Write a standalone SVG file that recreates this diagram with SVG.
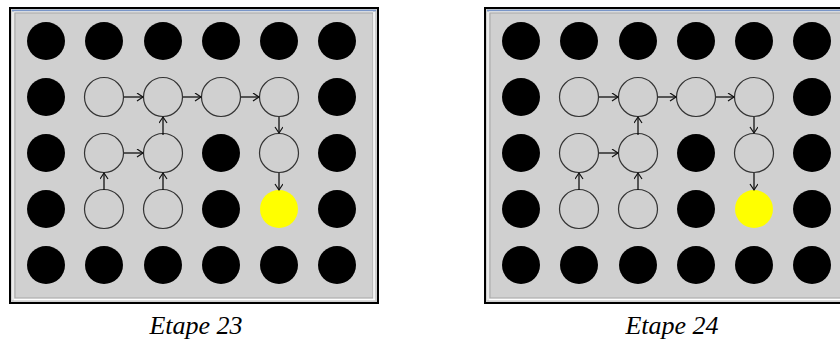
<svg xmlns="http://www.w3.org/2000/svg" width="840" height="344" viewBox="0 0 840 344">
<style>
.frame{fill:#d0d0d0;stroke:#000;stroke-width:2}
.blk{fill:#000}
.open{fill:none;stroke:#333;stroke-width:1.2}
.yel{fill:#ffff00}
.conn{stroke:#111;stroke-width:1.3;fill:none;marker-end:url(#ah)}
.lbl{font-family:"Liberation Serif",serif;font-style:italic;font-size:26px;fill:#000;text-anchor:middle}
</style>
<defs>
<marker id="ah" markerWidth="10" markerHeight="10" refX="7" refY="4" orient="auto" markerUnits="userSpaceOnUse">
<path d="M1,0 L7,4 L1,8" fill="none" stroke="#111" stroke-width="1.2"/>
</marker>
<g id="board">
<rect class="frame" x="10" y="8" width="368" height="295"/>
<line x1="12" y1="10.5" x2="376" y2="10.5" stroke="#7a96c8" stroke-width="1.5"/>
<line x1="13" y1="12" x2="13" y2="300" stroke="#f4f4f4" stroke-width="1.5"/>
<line x1="14" y1="12" x2="373" y2="12" stroke="#f4f4f4" stroke-width="1"/>
<rect x="15" y="13" width="358" height="285" fill="none" stroke="#a8a8a8" stroke-width="1"/>
<line x1="374" y1="12" x2="374" y2="300" stroke="#ffffff" stroke-width="1.5"/>
<line x1="14" y1="299.5" x2="375" y2="299.5" stroke="#ffffff" stroke-width="1.5"/>
<g id="n11"><circle class="blk" cx="46" cy="41" r="19"/></g>
<g id="n12"><circle class="blk" cx="104" cy="41" r="19"/></g>
<g id="n13"><circle class="blk" cx="163" cy="41" r="19"/></g>
<g id="n14"><circle class="blk" cx="221" cy="41" r="19"/></g>
<g id="n15"><circle class="blk" cx="279" cy="41" r="19"/></g>
<g id="n16"><circle class="blk" cx="337" cy="41" r="19"/></g>
<g id="n21"><circle class="blk" cx="46" cy="97" r="19"/></g>
<g id="n22"><circle class="open" cx="104" cy="97" r="19.5"/></g>
<g id="n23"><circle class="open" cx="163" cy="97" r="19.5"/></g>
<g id="n24"><circle class="open" cx="221" cy="97" r="19.5"/></g>
<g id="n25"><circle class="open" cx="279" cy="97" r="19.5"/></g>
<g id="n26"><circle class="blk" cx="337" cy="97" r="19"/></g>
<g id="n31"><circle class="blk" cx="46" cy="153" r="19"/></g>
<g id="n32"><circle class="open" cx="104" cy="153" r="19.5"/></g>
<g id="n33"><circle class="open" cx="163" cy="153" r="19.5"/></g>
<g id="n34"><circle class="blk" cx="221" cy="153" r="19"/></g>
<g id="n35"><circle class="open" cx="279" cy="153" r="19.5"/></g>
<g id="n36"><circle class="blk" cx="337" cy="153" r="19"/></g>
<g id="n41"><circle class="blk" cx="46" cy="209" r="19"/></g>
<g id="n42"><circle class="open" cx="104" cy="209" r="19.5"/></g>
<g id="n43"><circle class="open" cx="163" cy="209" r="19.5"/></g>
<g id="n44"><circle class="blk" cx="221" cy="209" r="19"/></g>
<g id="n45"><circle class="yel" cx="279" cy="209" r="19"/></g>
<g id="n46"><circle class="blk" cx="337" cy="209" r="19"/></g>
<g id="n51"><circle class="blk" cx="46" cy="265" r="19"/></g>
<g id="n52"><circle class="blk" cx="104" cy="265" r="19"/></g>
<g id="n53"><circle class="blk" cx="163" cy="265" r="19"/></g>
<g id="n54"><circle class="blk" cx="221" cy="265" r="19"/></g>
<g id="n55"><circle class="blk" cx="279" cy="265" r="19"/></g>
<g id="n56"><circle class="blk" cx="337" cy="265" r="19"/></g>
<g id="connectors">
<line class="conn" x1="124" y1="97" x2="143" y2="97"/>
<line class="conn" x1="183" y1="97" x2="201" y2="97"/>
<line class="conn" x1="241" y1="97" x2="259" y2="97"/>
<line class="conn" x1="279" y1="117" x2="279" y2="133"/>
<line class="conn" x1="279" y1="173" x2="279" y2="190"/>
<line class="conn" x1="124" y1="153" x2="143" y2="153"/>
<line class="conn" x1="163" y1="135" x2="163" y2="117"/>
<line class="conn" x1="104" y1="190" x2="104" y2="173"/>
<line class="conn" x1="163" y1="190" x2="163" y2="173"/>
</g>
</g>
</defs>
<g id="etape23">
<use href="#board"/>
<text class="lbl" x="196" y="334">Etape 23</text>
</g>
<g id="etape24">
<use href="#board" x="475"/>
<text class="lbl" x="672" y="334">Etape 24</text>
</g>
</svg>
